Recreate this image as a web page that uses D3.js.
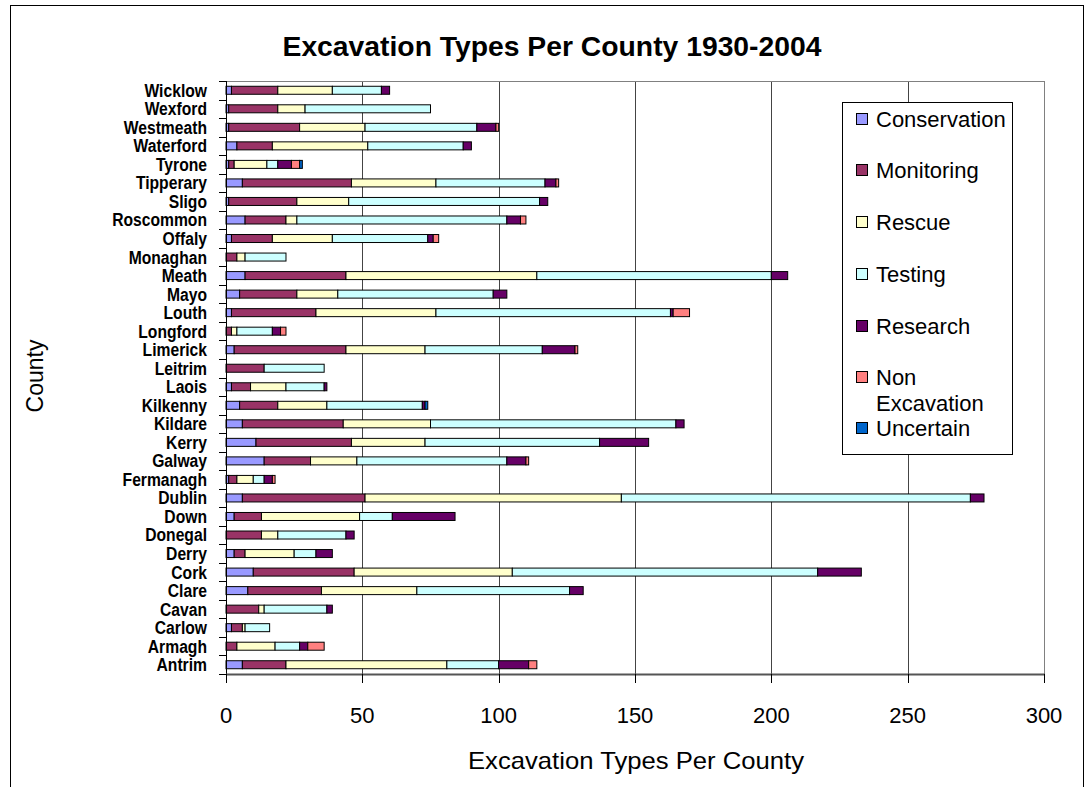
<!DOCTYPE html>
<html>
<head>
<meta charset="utf-8">
<script src="https://cdn.jsdelivr.net/npm/d3@7"></script>
<style>
  html, body { margin: 0; padding: 0; background: #fff; }
  svg { display: block; font-family: "Liberation Sans", Arial, sans-serif; }
</style>
</head>
<body>
<svg id="chart" width="1090" height="787"></svg>
<script>
// Categories listed bottom-up as in the reference
const counties = ["Antrim","Armagh","Carlow","Cavan","Clare","Cork","Derry","Donegal","Down","Dublin",
  "Fermanagh","Galway","Kerry","Kildare","Kilkenny","Laois","Leitrim","Limerick","Longford","Louth",
  "Mayo","Meath","Monaghan","Offaly","Roscommon","Sligo","Tipperary","Tyrone","Waterford","Westmeath",
  "Wexford","Wicklow"];

const seriesNames = ["Conservation","Monitoring","Rescue","Testing","Research","Non Excavation","Uncertain"];
const seriesColors = ["#9999FF","#993366","#FFFFCC","#CCFFFF","#660066","#FF8080","#0066CC"];

const conservation = [6,0,2,0,8,10,3,0,3,6, 1,14,11,6,5,2,0,3,0,2, 5,7,0,2,7,1,6,1,4,1, 1,2];
const monitoring   = [16,4,4,12,27,37,4,13,10,45, 3,17,35,37,14,7,14,41,2,31, 21,37,4,15,15,25,40,2,13,26, 18,17];
const rescue       = [59,14,1,2,35,58,18,6,36,94, 6,17,27,32,18,13,0,29,2,44, 15,70,3,22,4,19,31,12,35,24, 10,20];
const testing      = [19,9,9,23,56,112,8,25,12,128, 4,55,64,90,35,14,22,43,13,86, 57,86,15,35,77,70,40,4,35,41, 46,18];
const research     = [11,3,0,2,5,16,6,3,23,5, 3,7,18,3,1,1,0,12,3,1, 5,6,0,2,5,3,4,5,3,7, 0,3];
const nonExcavation= [3,6,0,0,0,0,0,0,0,0, 1,1,0,0,0,0,0,1,2,6, 0,0,0,2,2,0,1,3,0,1, 0,0];
const uncertain    = [0,0,0,0,0,0,0,0,0,0, 0,0,0,0,1,0,0,0,0,0, 0,0,0,0,0,0,0,1,0,0, 0,0];

const xTicks = [0,50,100,150,200,250,300];

const keys = ["c","m","r","t","re","n","u"];
const table = counties.map((name,i)=>({name, c:conservation[i], m:monitoring[i], r:rescue[i], t:testing[i],
  re:research[i], n:nonExcavation[i], u:uncertain[i]}));

const svg = d3.select("#chart");
const L = 226, R = 1044, T = 81, B = 674;

// outer chart border
svg.append("rect").attr("x",10.5).attr("y",5.5).attr("width",1073).attr("height",790)
  .attr("fill","#fff").attr("stroke","#000").attr("stroke-width",1);

const x = d3.scaleLinear().domain([0,300]).range([L,R]);
const y = d3.scaleBand().domain(counties.slice().reverse()).range([T,B]).padding(0);
const barH = 8;

// gridlines
svg.append("g").selectAll("line").data(xTicks.filter(d=>d>0)).join("line")
  .attr("x1",d=>Math.round(x(d))+0.5).attr("x2",d=>Math.round(x(d))+0.5)
  .attr("y1",T).attr("y2",B)
  .attr("stroke",d=>d===300?"#808080":"#444").attr("stroke-width",1);
// plot top border
svg.append("line").attr("x1",L).attr("x2",R+0.5).attr("y1",T+0.5).attr("y2",T+0.5)
  .attr("stroke","#808080").attr("stroke-width",1);

// stacked bars
const stack = d3.stack().keys(keys)(table);
const gBars = svg.append("g");
stack.forEach((layer,li)=>{
  gBars.append("g").attr("fill",seriesColors[li]).attr("stroke","#000").attr("stroke-width",1)
    .selectAll("rect").data(layer.filter(d=>d[1]-d[0]>0)).join("rect")
    .attr("x",d=>x(d[0])).attr("width",d=>x(d[1])-x(d[0]))
    .attr("y",d=>y(d.data.name)+y.bandwidth()/2-barH/2).attr("height",barH);
});

// y axis
const gy = svg.append("g");
gy.append("line").attr("x1",L+0.5).attr("x2",L+0.5).attr("y1",T).attr("y2",B).attr("stroke","#000");
const bounds = counties.map(c=>y(c)).concat([B]);
gy.selectAll("line.tk").data(bounds).join("line").attr("class","tk")
  .attr("x1",L-7).attr("x2",L).attr("y1",d=>Math.round(d)+0.5).attr("y2",d=>Math.round(d)+0.5)
  .attr("stroke","#000");
gy.selectAll("text").data(counties).join("text")
  .attr("x",207).attr("y",d=>y(d)+y.bandwidth()/2).attr("dy","0.36em")
  .attr("text-anchor","end").attr("font-weight","bold").attr("font-size",18)
  .text(d=>d)
  .each(function(){
    const w = this.getComputedTextLength();
    d3.select(this).attr("textLength",w*0.87).attr("lengthAdjust","spacingAndGlyphs");
  });

// x axis
const gx = svg.append("g");
gx.append("line").attr("x1",L).attr("x2",R+1).attr("y1",B+0.5).attr("y2",B+0.5)
  .attr("stroke","#555").attr("stroke-width",2);
gx.selectAll("line.tk").data(xTicks).join("line").attr("class","tk")
  .attr("x1",d=>Math.round(x(d))+0.5).attr("x2",d=>Math.round(x(d))+0.5)
  .attr("y1",B).attr("y2",B+9).attr("stroke","#000");
gx.selectAll("text").data(xTicks).join("text")
  .attr("x",d=>x(d)).attr("y",B+41).attr("dy","0.36em").attr("text-anchor","middle")
  .attr("font-size",22).text(d=>d);

// axis titles
svg.append("text").attr("x",636).attr("y",760).attr("dy","0.36em").attr("text-anchor","middle")
  .attr("font-size",24).attr("textLength",336).attr("lengthAdjust","spacingAndGlyphs")
  .text("Excavation Types Per County");
svg.append("text").attr("transform","translate(35,376) rotate(-90)").attr("dy","0.36em")
  .attr("text-anchor","middle").attr("font-size",23).text("County");

// title
svg.append("text").attr("x",552).attr("y",46).attr("dy","0.36em").attr("text-anchor","middle")
  .attr("font-size",27).attr("font-weight","bold").attr("textLength",539).attr("lengthAdjust","spacingAndGlyphs")
  .text("Excavation Types Per County 1930-2004");

// legend
const lg = svg.append("g");
lg.append("rect").attr("x",842.5).attr("y",102.5).attr("width",170).attr("height",352)
  .attr("fill","#fff").attr("stroke","#000");
const legY = [119,170,222,274,326,377,428];
seriesNames.forEach((s,i)=>{
  lg.append("rect").attr("x",856.5).attr("y",legY[i]-6+0.5).attr("width",11).attr("height",11)
    .attr("fill",seriesColors[i]).attr("stroke","#000");
  if (s === "Non Excavation") {
    lg.append("text").attr("x",876).attr("y",legY[i]).attr("dy","0.36em").attr("font-size",22).text("Non");
    lg.append("text").attr("x",876).attr("y",legY[i]+26).attr("dy","0.36em").attr("font-size",22).text("Excavation");
  } else {
    lg.append("text").attr("x",876).attr("y",legY[i]).attr("dy","0.36em").attr("font-size",22).text(s);
  }
});
</script>
</body>
</html>
